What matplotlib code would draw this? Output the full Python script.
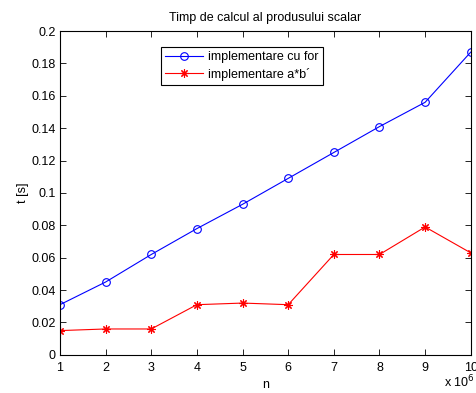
import matplotlib
matplotlib.use("Agg")
import matplotlib.pyplot as plt

n = [1, 2, 3, 4, 5, 6, 7, 8, 9, 10]
t_for = [0.031, 0.045, 0.062, 0.078, 0.093, 0.109, 0.125, 0.141, 0.156, 0.187]
t_vec = [0.015, 0.016, 0.016, 0.031, 0.032, 0.031, 0.062, 0.062, 0.079, 0.063]
yticks = [0, 0.02, 0.04, 0.06, 0.08, 0.1, 0.12, 0.14, 0.16, 0.18, 0.2]
yticklabels = ["0", "0.02", "0.04", "0.06", "0.08", "0.1", "0.12", "0.14", "0.16", "0.18", "0.2"]

plt.rcParams['font.family'] = ['Liberation Sans', 'DejaVu Sans']
plt.rcParams['font.size'] = 9

fig = plt.figure(figsize=(4.76, 3.93), dpi=100)
ax = fig.add_axes([0.126, 0.097, 0.863, 0.824])
ax.plot(n, t_for, color='blue', marker='o', markersize=5.5, markerfacecolor='none',
        markeredgewidth=0.8, linewidth=0.8, label='implementare cu for')
ax.plot(n, t_vec, color='red', marker=(8, 2, 0), markersize=6, markeredgewidth=0.8,
        linewidth=0.8, label='implementare a*b´')
ax.set_xlim(1, 10)
ax.set_ylim(0, 0.2)
ax.set_xticks(n)
ax.set_xticklabels([str(v) for v in n])
ax.set_yticks(yticks)
ax.set_yticklabels(yticklabels)
ax.tick_params(direction='in', length=4, top=True, right=True, width=0.6)
ax.tick_params(axis='x', pad=5)
ax.tick_params(axis='y', pad=3)
for s in ax.spines.values():
    s.set_linewidth(0.8)
ax.set_xlabel('n', labelpad=4)
ax.set_ylabel('t [s]', labelpad=2)
ax.set_title('Timp de calcul al produsului scalar', fontsize=9, pad=7)
fig.text(0.997, 0.006, 'x 10$^{6}$', ha='right', va='bottom', fontsize=9)
leg = ax.legend(loc='upper left', bbox_to_anchor=(0.246, 0.951), fancybox=False,
                edgecolor='black', framealpha=1, borderaxespad=0, handlelength=3,
                labelspacing=0.35, borderpad=0.35, handletextpad=0.4)
leg.get_frame().set_linewidth(0.8)
fig.savefig('out.png', dpi=100)
